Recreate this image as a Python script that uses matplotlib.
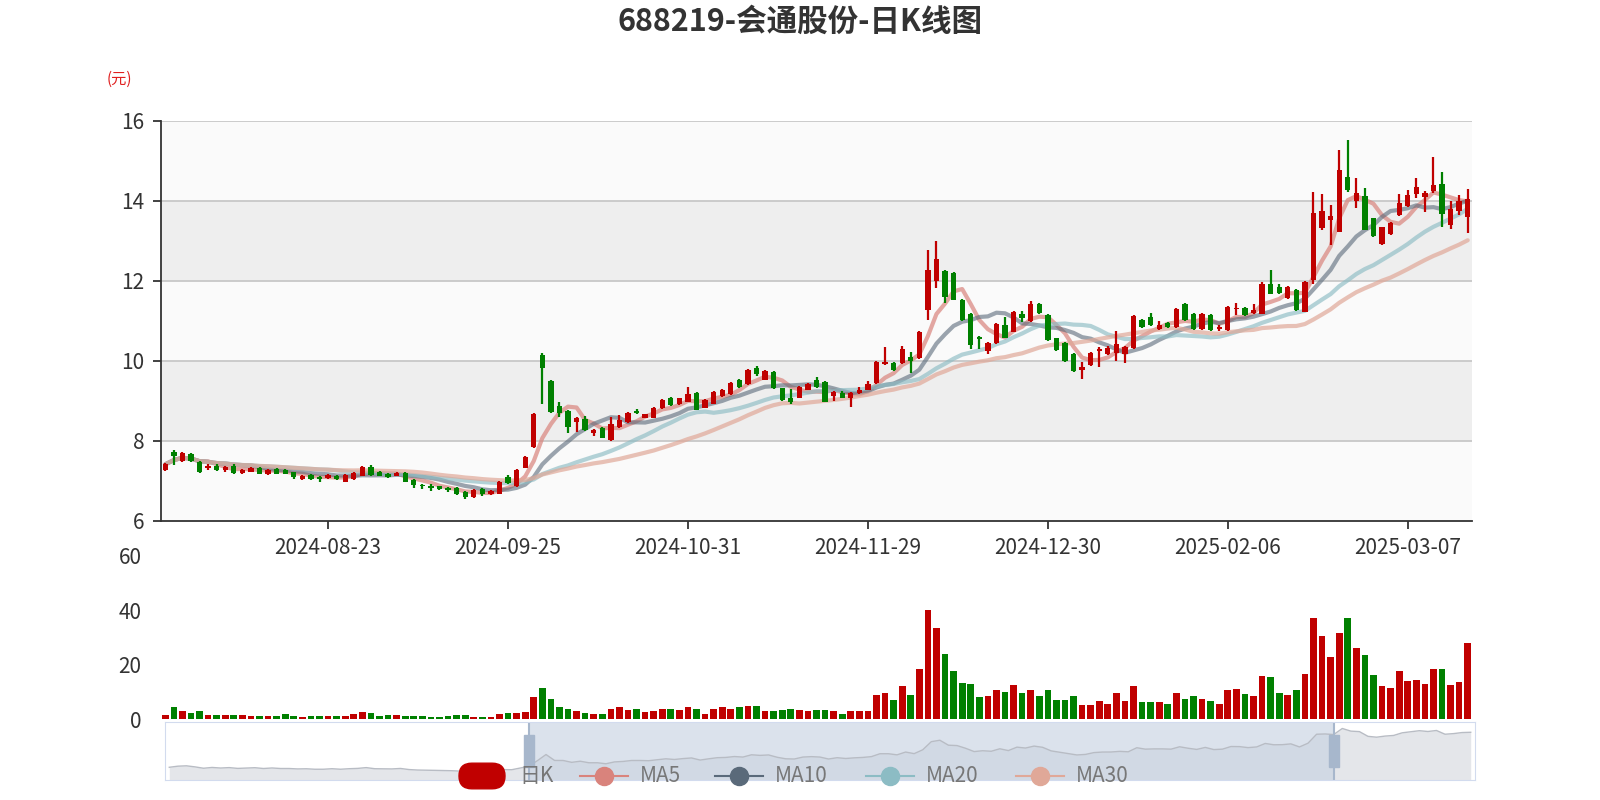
import numpy as np
import pandas as pd
import matplotlib
matplotlib.use("Agg")
import matplotlib.pyplot as plt
from matplotlib.patches import Rectangle, FancyBboxPatch
from matplotlib.lines import Line2D

plt.rcParams['font.family'] = ['Noto Sans CJK SC', 'DejaVu Sans']

title = "688219-会通股份-日K线图"
ohlc = [
(7.27,7.41,7.44,7.24),(7.73,7.62,7.76,7.39),(7.50,7.69,7.72,7.47),(7.67,7.49,7.70,7.46),(7.48,7.23,7.50,7.20),
(7.31,7.38,7.41,7.28),(7.38,7.27,7.42,7.25),(7.27,7.35,7.37,7.22),(7.38,7.20,7.41,7.18),(7.20,7.27,7.29,7.18),
(7.23,7.33,7.35,7.21),(7.33,7.18,7.35,7.16),(7.16,7.28,7.30,7.14),(7.29,7.18,7.31,7.16),(7.27,7.18,7.30,7.16),
(7.21,7.10,7.23,7.05),(7.04,7.13,7.15,7.02),(7.14,7.04,7.16,7.02),(7.10,7.04,7.12,6.98),(7.06,7.14,7.16,7.04),
(7.12,7.04,7.14,7.02),(6.98,7.14,7.16,6.96),(7.04,7.20,7.22,7.02),(7.13,7.35,7.38,7.11),(7.35,7.14,7.40,7.12),
(7.23,7.13,7.25,7.11),(7.17,7.10,7.19,7.08),(7.13,7.19,7.21,7.11),(7.19,6.98,7.21,6.96),(7.02,6.89,7.04,6.82),
(6.90,6.87,6.93,6.80),(6.88,6.83,6.91,6.75),(6.86,6.80,6.88,6.76),(6.82,6.76,6.84,6.72),(6.83,6.67,6.85,6.65),
(6.73,6.60,6.75,6.55),(6.60,6.77,6.79,6.58),(6.79,6.68,6.81,6.62),(6.67,6.74,6.76,6.65),(6.68,6.97,6.99,6.66),
(7.10,6.95,7.15,6.93),(6.87,7.27,7.29,6.85),(7.33,7.60,7.63,7.31),(7.85,8.67,8.70,7.83),(10.14,9.83,10.20,8.92),
(9.50,8.71,9.52,8.69),(8.87,8.70,8.97,8.60),(8.74,8.35,8.76,8.20),(8.48,8.56,8.60,8.23),(8.54,8.27,8.62,8.25),
(8.20,8.27,8.30,8.12),(8.33,8.08,8.35,8.06),(8.02,8.43,8.60,8.00),(8.35,8.52,8.65,8.33),(8.47,8.70,8.72,8.45),
(8.75,8.70,8.80,8.68),(8.58,8.66,8.68,8.56),(8.58,8.83,8.85,8.56),(8.81,9.02,9.04,8.79),(9.08,8.89,9.10,8.87),
(8.92,9.06,9.08,8.90),(8.98,9.18,9.35,8.96),(9.20,8.78,9.22,8.76),(8.83,9.02,9.04,8.81),(8.93,9.23,9.25,8.91),
(9.12,9.28,9.30,9.10),(9.17,9.45,9.47,9.15),(9.53,9.35,9.55,9.33),(9.42,9.78,9.80,9.40),(9.83,9.67,9.88,9.62),
(9.53,9.75,9.77,9.51),(9.73,9.31,9.75,9.29),(9.31,9.02,9.33,9.00),(9.06,8.98,9.30,8.93),(9.08,9.35,9.37,9.06),
(9.28,9.43,9.45,9.26),(9.52,9.35,9.60,9.33),(9.47,8.98,9.50,8.96),(9.12,9.23,9.25,9.00),(9.20,9.08,9.25,9.06),
(9.08,9.20,9.22,8.85),(9.20,9.28,9.35,9.18),(9.28,9.43,9.50,9.26),(9.45,9.98,10.00,9.43),(9.92,9.98,10.35,9.90),
(9.95,9.77,9.97,9.75),(9.95,10.30,10.38,9.93),(10.10,10.00,10.22,9.70),(10.06,10.73,10.75,10.04),(11.27,12.27,12.77,11.02),
(12.00,12.54,13.00,11.83),(12.24,11.60,12.26,11.45),(12.20,11.53,12.22,11.51),(11.53,11.02,11.55,11.00),(11.17,10.39,11.19,10.30),
(10.60,10.55,10.62,10.30),(10.25,10.45,10.47,10.18),(10.45,10.92,10.94,10.43),(10.90,10.58,11.10,10.56),(10.73,11.23,11.25,10.71),
(11.16,11.06,11.24,10.98),(11.00,11.43,11.50,10.98),(11.43,11.20,11.45,11.18),(11.15,10.52,11.17,10.50),(10.56,10.27,10.58,10.25),
(10.45,10.00,10.47,9.98),(10.17,9.75,10.19,9.73),(9.77,9.85,9.98,9.55),(9.90,10.20,10.22,9.88),(10.25,10.30,10.35,9.85),
(10.17,10.31,10.38,10.15),(10.20,10.43,10.75,10.00),(10.17,10.35,10.37,9.95),(10.31,11.12,11.14,10.29),(11.03,10.85,11.05,10.83),
(11.10,10.90,11.20,10.88),(10.80,10.90,11.00,10.78),(10.95,10.85,10.97,10.83),(10.85,11.30,11.32,10.83),(11.42,11.02,11.44,11.00),
(11.18,10.80,11.20,10.78),(10.80,11.18,11.20,10.78),(11.14,10.77,11.16,10.75),(10.80,10.85,10.90,10.75),(10.77,11.35,11.37,10.75),
(11.30,11.33,11.45,11.15),(11.33,11.14,11.35,11.12),(11.20,11.27,11.43,11.18),(11.18,11.93,11.96,11.16),(11.93,11.68,12.28,11.66),
(11.85,11.70,11.92,11.68),(11.56,11.85,11.87,11.54),(11.77,11.27,11.79,11.25),(11.23,11.98,12.00,11.21),(12.02,13.68,14.22,11.93),
(13.31,13.73,14.18,13.27),(13.52,13.62,13.90,12.90),(13.23,14.77,15.27,13.21),(14.58,14.27,15.53,14.22),(14.00,14.18,14.58,13.83),
(14.12,13.28,14.33,13.26),(13.56,13.12,13.58,13.10),(12.93,13.33,13.35,12.90),(13.17,13.45,13.47,13.15),(13.64,13.95,14.17,13.62),
(13.87,14.14,14.28,13.85),(14.18,14.35,14.58,14.06),(14.10,14.20,14.25,13.72),(14.23,14.39,15.10,14.20),(14.43,13.68,14.72,13.35),
(13.40,13.80,14.00,13.30),(13.75,14.00,14.15,13.65),(13.60,14.05,14.30,13.20),
]
volumes = [
1.5,4.5,3,2.2,3,1.5,1.5,1.3,1.5,1.3,
1,1.2,1.1,1.2,2,1.2,0.7,1,1,1,
1,1,2,2.5,2.3,1,1.3,1.5,1.2,1.2,
1,0.9,0.9,1.1,1.5,1.3,0.8,0.8,0.6,1.8,
2.2,2.3,2.4,8,11.5,7.5,4.5,3.8,3,2.2,
2,2,3.8,4.5,3.3,3.8,2.5,2.8,3.5,3.6,
3.2,4.3,3.8,1.8,3.8,4.5,3.6,4.3,4.8,4.7,
2.8,3,3.2,3.8,3.2,2.8,3.2,3.2,2.8,2,
3,2.8,3,8.7,9.5,7,12.3,8.8,18.5,40,
33.5,24,17.5,13.3,13,8,8.3,10.8,9.8,12.5,
9.5,10.8,8.3,10.5,7,7,8.3,5.3,5.3,6.8,
5.7,9.5,6.8,12.3,6.3,6.3,6.2,5.6,9.7,7.3,
8.5,7.5,6.8,5.5,10.5,11,9.2,8.5,16,15.5,
9.5,9,10.5,16.5,37,30.5,23,31.5,37,26,
23.5,16.3,12.3,11.5,17.8,14,14.5,13,18.5,18.3,
12.5,13.5,28,
]
tick_dates = ["2024-08-23", "2024-09-25", "2024-10-31", "2024-11-29", "2024-12-30", "2025-02-06", "2025-03-07"]
holidays = ["2024-09-16", "2024-09-17", "2024-10-01", "2024-10-02", "2024-10-03", "2024-10-04", "2024-10-07",
            "2025-01-01", "2025-01-28", "2025-01-29", "2025-01-30", "2025-01-31", "2025-02-03", "2025-02-04"]
legend_names = ["日K", "MA5", "MA10", "MA20", "MA30"]

N = len(ohlc)
vol = np.array(volumes[:N] + [0] * max(0, N - len(volumes)))
bd = pd.bdate_range("2024-06-01", "2025-03-18")
bd = bd[~bd.isin(pd.to_datetime(holidays))]
dates = [d.strftime("%Y-%m-%d") for d in bd[-N:]]

o = np.array([r[0] for r in ohlc]); c = np.array([r[1] for r in ohlc])
h = np.array([r[2] for r in ohlc]); l = np.array([r[3] for r in ohlc])
up = c >= o
RED, GREEN = "#c00000", "#008000"
x = np.arange(N)

W, H = 1600, 800
fig = plt.figure(figsize=(16, 8), dpi=100)
def ax_px(x0, y0, x1, y1):
    return fig.add_axes([x0 / W, 1 - y1 / H, (x1 - x0) / W, (y1 - y0) / H])

L, R = 161, 1472
ax = ax_px(L, 120.7, R, 520.7)
ax.set_xlim(-0.5, N - 0.5); ax.set_ylim(6, 16)
for k, (a, b) in enumerate([(6, 8), (8, 10), (10, 12), (12, 14), (14, 16)]):
    ax.axhspan(a, b, color="#fafafa" if k % 2 == 0 else "#eeeeee", zorder=0, lw=0)
for yv in [8, 10, 12, 14, 16]:
    ax.axhline(yv, color="#c8c8c8", lw=1.3, zorder=1)
cols = [RED if u else GREEN for u in up]
ax.vlines(x, l, h, colors=cols, lw=1.6, zorder=4)
ax.bar(x, np.maximum(np.abs(c - o), 0.02), bottom=np.minimum(o, c), width=0.62, color=cols, zorder=5)
cs = pd.Series(c)
ma_specs = [(5, "#d9837c", 0.7), (10, "#5a6a7a", 0.6), (20, "#8cbcc4", 0.65), (30, "#e0a898", 0.7)]
for n, col, al in ma_specs:
    ax.plot(x, cs.rolling(n, min_periods=1).mean(), color=col, lw=3, alpha=al, zorder=3, solid_capstyle="round")
for s in ["top", "right"]:
    ax.spines[s].set_visible(False)
ax.spines["left"].set_color("#333"); ax.spines["bottom"].set_color("#333")
ax.spines["left"].set_linewidth(1.3); ax.spines["bottom"].set_linewidth(1.3)
ax.set_yticks([6, 8, 10, 12, 14, 16])
ax.tick_params(axis="y", labelsize=15, colors="#333", length=6, width=1.3, pad=6)
tpos = [dates.index(d) for d in tick_dates if d in dates]
ax.set_xticks(tpos); ax.set_xticklabels([dates[i] for i in tpos])
ax.tick_params(axis="x", labelsize=15, colors="#333", length=6, width=1.3, pad=6)
fig.text(119 / W, 1 - 79 / H, "(元)", color="#e02020", fontsize=11, ha="center", va="center")
fig.text(0.5, 1 - 22 / H, title, fontsize=22, fontweight="bold", color="#333", ha="center", va="center")

# volume
axv = ax_px(L, 556, R, 719)
axv.set_xlim(-0.5, N - 0.5); axv.set_ylim(0, 60)
axv.bar(x, vol, width=0.78, color=cols)
for s in ["top", "right", "left", "bottom"]:
    axv.spines[s].set_visible(False)
axv.set_xticks([]); axv.set_yticks([0, 20, 40, 60])
axv.tick_params(axis="y", labelsize=15, colors="#333", length=0, pad=14)

# slider
axs = ax_px(165, 722, 1475, 780)
axs.set_xlim(-0.5, N - 0.5); axs.set_ylim(5, 16)
axs.set_facecolor("#ffffff")
axs.fill_between(x, 5, c, color="#e4e6ea", lw=0)
axs.plot(x, c, color="#b8bcc4", lw=1)
ws, we = 42, 136
axs.axvspan(ws, we, color="#c8d3e2", alpha=0.65, lw=0)
for xv in [ws, we]:
    axs.axvline(xv, color="#a7b7cc", lw=1.5)
    axs.add_patch(Rectangle((xv - 0.6, 7.5), 1.2, 6, color="#a7b7cc", zorder=5))
axs.set_xticks([]); axs.set_yticks([])
for s in axs.spines.values():
    s.set_color("#d2dbee")

# legend
ly = 1 - 776 / H
lx = [459, 580, 715, 866, 1016]
for i, name in enumerate(legend_names):
    x0 = lx[i] / W
    if i == 0:
        fig.patches.append(FancyBboxPatch((x0, ly - 0.016), 46 / W, 0.032, boxstyle="round,pad=0,rounding_size=0.008",
                                          transform=fig.transFigure, color=RED, mutation_aspect=2))
    else:
        col = ma_specs[i - 1][1]
        fig.lines.append(Line2D([x0, x0 + 48 / W], [ly, ly], transform=fig.transFigure, color=col, lw=1.5))
        fig.lines.append(Line2D([x0 + 24 / W], [ly], transform=fig.transFigure, marker="o", ms=13, color=col))
    fig.text(x0 + 60 / W, ly, name, fontsize=15, color="#777", va="center", ha="left")

fig.savefig("out.png", dpi=100)
